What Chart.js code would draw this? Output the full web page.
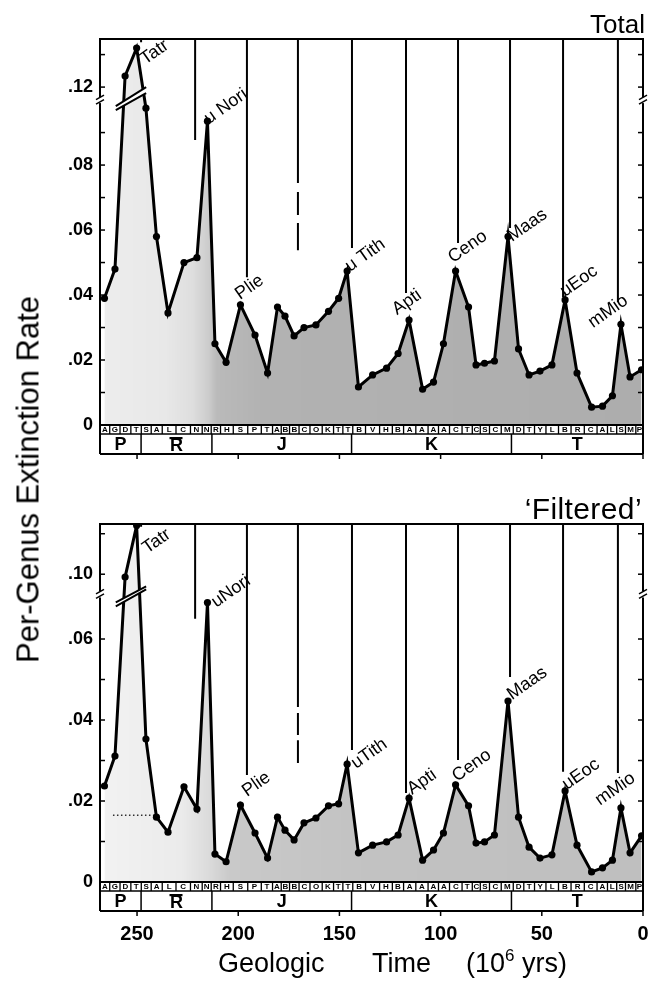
<!DOCTYPE html>
<html><head><meta charset="utf-8"><title>Per-Genus Extinction Rate</title>
<script src="https://cdn.jsdelivr.net/npm/chart.js@4.4.1/dist/chart.umd.min.js"></script>
<style>
html,body{margin:0;padding:0;background:#fff;}
#wrap{position:relative;width:649px;height:982px;overflow:hidden;font-family:"Liberation Sans",Arial,Helvetica,sans-serif;color:#000;}
canvas{position:absolute;left:0;}
.txt{position:absolute;white-space:nowrap;line-height:1;}
</style></head>
<body><div id="wrap">
<canvas id="c1" width="649" height="470" style="top:0"></canvas>
<canvas id="c2" width="649" height="502" style="top:480px"></canvas>
<div class="txt" style="right:4px;top:11px;font-size:26px;">Total</div>
<div class="txt" style="right:7px;top:494px;font-size:30px;letter-spacing:0.4px;">‘Filtered’</div>
<div class="txt" style="left:-222px;top:464px;width:500px;text-align:center;font-size:31px;transform:rotate(-90deg);">Per-Genus Extinction Rate</div>
<div class="txt" style="left:218px;top:950px;font-size:27px;">Geologic</div>
<div class="txt" style="left:372px;top:950px;font-size:27px;">Time</div>
<div class="txt" style="left:466px;top:950px;font-size:27px;">(10<span style="font-size:17px;position:relative;top:-11px">6</span> yrs)</div>
</div>
<script>
const FONT = '"Liberation Sans", Arial, Helvetica, sans-serif';

// ---- data ----
const stageAge = [266.1,260.9,255.9,250.2,245.6,240.4,234.7,226.8,220.4,215.2,211.5,206.0,198.9,191.7,185.5,180.6,176.9,172.4,167.5,161.6,155.4,150.4,146.2,140.6,133.6,126.7,121.0,115.6,108.9,103.5,98.6,92.6,86.2,82.5,78.3,73.4,66.7,61.5,56.3,50.9,45.0,38.5,32.6,25.4,20.0,15.1,10.9,6.4,0.7];
const totalRate = [0.039,0.048,0.1234,0.132,0.0975,0.058,0.0345,0.050,0.0515,0.0935,0.025,0.0193,0.037,0.0277,0.016,0.0363,0.0335,0.0274,0.030,0.0308,0.035,0.039,0.0474,0.0117,0.0154,0.0175,0.022,0.0323,0.011,0.0132,0.025,0.0474,0.0363,0.0185,0.019,0.0197,0.058,0.0234,0.0154,0.0166,0.0185,0.0385,0.016,0.0055,0.0058,0.009,0.031,0.0148,0.017];
const filteredRate = [0.0237,0.0311,0.0993,0.112,0.0353,0.016,0.0123,0.0235,0.018,0.069,0.0069,0.005,0.019,0.0121,0.0059,0.016,0.0128,0.0104,0.0146,0.0158,0.0188,0.0193,0.0291,0.0072,0.0091,0.0099,0.0116,0.0207,0.0054,0.0079,0.0121,0.024,0.0188,0.0096,0.0099,0.0116,0.0447,0.016,0.0086,0.0059,0.0067,0.0225,0.0091,0.0025,0.0035,0.0054,0.0183,0.0072,0.0114];
const stageLetters = ['A','G','D','T','S','A','L','C','N','N','R','H','S','P','T','A','B','B','C','O','K','T','T','B','V','H','B','A','A','A','A','C','T','C','S','C','M','D','T','Y','L','B','R','C','A','L','S','M','P'];

const periodNames = ['P','TR','J','K','T'];
const periodBounds = [268.3,248,213,144,65,0];
const ageMax = 268.3;
const xTickVals = [250,200,150,100,50,0];

const cycleAge = [248.0,221.3,195.7,170.5,143.8,117.1,91.4,65.7,39.5,12.4];
const cycleEndTotal = [0.1338,0.0877,0.0455,0.0538,0.0545,0.0406,0.056,0.0606,0.0394,0.0378];
const cycleEndFiltered = [0.1117,0.065,0.0264,0.0294,0.0326,0.022,0.0301,0.0506,0.0272,0.0269];
const dashedCycle = 3;
const gapsTotal = [[0.0745,0.0717],[0.0646,0.0622]];
const gapsFiltered = [[0.0432,0.0417],[0.0363,0.035]];

const namesTotal = ['Tatr','u Nori','Plie','u Tith','Apti','Ceno','Maas','uEoc','mMio'];
const nameAgeTotal = [246,214.4,199.1,144.8,121.5,93.9,64.7,38.5,24.7];
const nameRateTotal = [0.1268,0.0926,0.0385,0.0471,0.0338,0.0498,0.0563,0.0394,0.0298];
const namesFiltered = ['Tatr','uNori','Plie','uTith','Apti','Ceno','Maas','uEoc','mMio'];
const nameAgeFiltered = [245,210.9,195.7,141.8,114.1,91.9,64.7,37.5,21.2];
const nameRateFiltered = [0.105,0.0677,0.021,0.0279,0.0215,0.0247,0.0449,0.0227,0.0188];

const totalTickVals = [0,0.02,0.04,0.06,0.08,0.12];
const totalTickText = ['0','.02','.04','.06','.08','.12'];
const totalMinor = [0.01,0.03,0.05,0.07,0.09,0.13];
const filteredTickVals = [0,0.02,0.04,0.06,0.10];
const filteredTickText = ['0','.02','.04','.06','.10'];
const filteredMinor = [0.01,0.03,0.05,0.11];

const dotAge = [261.9,240.1];
const dotRate = [0.0165,0.0165];

// ---- panels ----
const panels = [
  {id:'c1', rate:totalRate, yMax:0.1188, brk:0.100, off:0.016, padTop:39, xH:45, showX:false,
   tickVals:totalTickVals, tickText:totalTickText, minor:totalMinor,
   cycleEnd:cycleEndTotal, gaps:gapsTotal, names:namesTotal, nameAge:nameAgeTotal, nameRate:nameRateTotal,
   bandAge:[260.5,245.5], band:[6,-13,10,-7],
   shade:[[0,0.07],[0.12,0.09],[0.17,0.13],[0.2,0.2],[0.215,0.27],[0.3,0.3],[1,0.32]], dots:false},
  {id:'c2', rate:filteredRate, yMax:0.0884, brk:0.071, off:0.024, padTop:44, xH:100, showX:true,
   tickVals:filteredTickVals, tickText:filteredTickText, minor:filteredMinor,
   cycleEnd:cycleEndFiltered, gaps:gapsFiltered, names:namesFiltered, nameAge:nameAgeFiltered, nameRate:nameRateFiltered,
   bandAge:[260.5,245.5], band:[8,-8,12,-5],
   shade:[[0,0.05],[0.15,0.08],[0.2,0.14],[0.24,0.21],[0.5,0.24],[1,0.25]], dots:true}
];

function makeDecor(cfg, disp){
  return {
    id:'decor_'+cfg.id,
    afterDatasetsDraw(chart){
      const ctx=chart.ctx, xs=chart.scales.x, ys=chart.scales.y;
      const X=t=>xs.getPixelForValue(t), Yd=v=>ys.getPixelForValue(v), Y=v=>Yd(disp(v));
      const yc=Yd(cfg.brk), x1=X(cfg.bandAge[0]), x2=X(cfg.bandAge[1]), b=cfg.band;
      ctx.save();
      ctx.beginPath(); ctx.moveTo(x1,yc+b[0]); ctx.lineTo(x2,yc+b[1]); ctx.lineTo(x2,yc+b[3]); ctx.lineTo(x1,yc+b[2]); ctx.closePath();
      ctx.fillStyle='#fff'; ctx.fill();
      ctx.strokeStyle='#000'; ctx.lineWidth=2;
      ctx.beginPath(); ctx.moveTo(x1,yc+b[0]); ctx.lineTo(x2,yc+b[1]); ctx.stroke();
      ctx.beginPath(); ctx.moveTo(x1,yc+b[2]); ctx.lineTo(x2,yc+b[3]); ctx.stroke();
      ctx.fillStyle='#000'; ctx.font='18px '+FONT; ctx.textAlign='left'; ctx.textBaseline='alphabetic';
      cfg.names.forEach((n,i)=>{
        ctx.save(); ctx.translate(X(cfg.nameAge[i]),Y(cfg.nameRate[i])); ctx.rotate(-35*Math.PI/180);
        ctx.fillText(n,0,0); ctx.restore();
      });
      ctx.restore();
    },
    afterDraw(chart){
      const ctx=chart.ctx, xs=chart.scales.x, ys=chart.scales.y, a=chart.chartArea;
      const X=t=>xs.getPixelForValue(t), Yd=v=>ys.getPixelForValue(v), Y=v=>Yd(disp(v));
      const sb=a.bottom+9, pb=sb+20;
      ctx.save();
      ctx.fillStyle='#fff'; ctx.fillRect(a.left,a.bottom,a.right-a.left,pb-a.bottom);
      ctx.strokeStyle='#000'; ctx.fillStyle='#000';
      // stage row
      const bounds=[ageMax];
      for(let i=0;i<stageAge.length-1;i++) bounds.push((stageAge[i]+stageAge[i+1])/2);
      bounds.push(0);
      ctx.lineWidth=1.3;
      ctx.font='bold 8px '+FONT; ctx.textAlign='center'; ctx.textBaseline='middle';
      for(let i=0;i<bounds.length;i++){
        const x=X(bounds[i]); ctx.beginPath(); ctx.moveTo(x,a.bottom); ctx.lineTo(x,sb); ctx.stroke();
        if(i<stageLetters.length){ ctx.fillText(stageLetters[i],(X(bounds[i])+X(bounds[i+1]))/2,(a.bottom+sb)/2+0.5); }
      }
      // period row
      ctx.lineWidth=1.5;
      periodBounds.forEach(t=>{const x=X(t); ctx.beginPath(); ctx.moveTo(x,sb); ctx.lineTo(x,pb); ctx.stroke();});
      ctx.font='bold 18px '+FONT;
      periodNames.forEach((n,i)=>{
        const cx=(X(periodBounds[i])+X(periodBounds[i+1]))/2, cy=(sb+pb)/2+1;
        if(n==='TR'){
          ctx.fillText('R',cx,cy+1);
          ctx.fillRect(cx-7,cy-8,13,2.2);
        } else ctx.fillText(n,cx,cy);
      });
      // horizontal lines of strip
      ctx.lineWidth=2;
      [a.bottom,pb].forEach(y=>{ctx.beginPath(); ctx.moveTo(a.left,y); ctx.lineTo(a.right,y); ctx.stroke();});
      ctx.lineWidth=1.5;
      ctx.beginPath(); ctx.moveTo(a.left,sb); ctx.lineTo(a.right,sb); ctx.stroke();
      // x tick marks
      xTickVals.forEach(t=>{const x=X(t); ctx.beginPath(); ctx.moveTo(x,pb); ctx.lineTo(x,pb+5); ctx.stroke();});
      // frame
      ctx.lineWidth=2;
      ctx.beginPath(); ctx.moveTo(a.left,pb); ctx.lineTo(a.left,a.top); ctx.lineTo(a.right,a.top); ctx.lineTo(a.right,pb); ctx.stroke();
      // y tick marks both sides
      ctx.lineWidth=1.5;
      cfg.tickVals.concat(cfg.minor).forEach(v=>{
        if(v===0) return; const y=Y(v);
        ctx.beginPath(); ctx.moveTo(a.left,y); ctx.lineTo(a.left+5,y); ctx.stroke();
        ctx.beginPath(); ctx.moveTo(a.right-5,y); ctx.lineTo(a.right,y); ctx.stroke();
      });
      // axis break marks
      const yc=Yd(cfg.brk);
      [a.left,a.right].forEach(x=>{
        ctx.fillStyle='#fff'; ctx.fillRect(x-2,yc-3,4,6);
        ctx.lineWidth=1.5; ctx.beginPath(); ctx.moveTo(x-4,yc-0.5); ctx.lineTo(x+4,yc-5); ctx.stroke();
        ctx.beginPath(); ctx.moveTo(x-4,yc+4); ctx.lineTo(x+4,yc-0.5); ctx.stroke();
      });
      ctx.restore();
    }
  };
}

panels.forEach(cfg=>{
  const disp = v => v > cfg.brk + cfg.off ? v - cfg.off : v;
  const datasets = [{
    data: stageAge.map((t,i)=>({x:t,y:disp(cfg.rate[i])})),
    borderColor:'#000', borderWidth:3, pointRadius:3.6, pointHoverRadius:3.6,
    pointBackgroundColor:'#000', pointBorderWidth:0, tension:0, fill:'origin', order:0,
    backgroundColor: c => {
      const a=c.chart.chartArea; if(!a) return 'rgba(0,0,0,0.25)';
      const g=c.chart.ctx.createLinearGradient(a.left,0,a.right,0);
      cfg.shade.forEach(s=>g.addColorStop(s[0],'rgba(0,0,0,'+s[1]+')'));
      return g;
    }
  }];
  cycleAge.forEach((t,i)=>{
    let ys=[cfg.yMax];
    if(i===dashedCycle) cfg.gaps.forEach(g=>{ys.push(disp(g[0]),disp(g[1]));});
    ys.push(disp(cfg.cycleEnd[i]));
    for(let k=0;k<ys.length;k+=2){
      datasets.push({data:[{x:t,y:ys[k]},{x:t,y:ys[k+1]}], borderColor:'#000', borderWidth:2,
        pointRadius:0, fill:false, order:1});
    }
  });
  if(cfg.dots){
    datasets.push({data:dotAge.map((t,i)=>({x:t,y:dotRate[i]})), borderColor:'#333', borderWidth:1.5,
      borderDash:[1.5,2.5], pointRadius:0, fill:false, order:1});
  }
  new Chart(document.getElementById(cfg.id), {
    type:'line',
    data:{datasets},
    options:{
      responsive:false, animation:false, devicePixelRatio:1,
      layout:{padding:{top:cfg.padTop,right:6,left:0,bottom:0}},
      plugins:{legend:{display:false},tooltip:{enabled:false}},
      scales:{
        x:{type:'linear',min:0,max:ageMax,reverse:true,
           grid:{display:false,drawTicks:false},border:{display:false},
           ticks:{display:cfg.showX,padding:40,font:{family:FONT,size:20,weight:'bold'},color:'#000',autoSkip:false,maxRotation:0},
           afterBuildTicks:s=>{s.ticks=xTickVals.map(v=>({value:v}));},
           afterFit:s=>{s.height=cfg.xH; s.paddingLeft=0; s.paddingRight=0;}},
        y:{type:'linear',min:0,max:cfg.yMax,
           grid:{display:false,drawTicks:false},border:{display:false},
           ticks:{padding:7,font:{family:FONT,size:18,weight:'bold'},color:'#000',autoSkip:false,
                  callback:(v,i)=>cfg.tickText[i]},
           afterBuildTicks:s=>{s.ticks=cfg.tickVals.map(v=>({value:disp(v)}));},
           afterFit:s=>{s.width=100; s.paddingTop=0; s.paddingBottom=0;}}
      }
    },
    plugins:[makeDecor(cfg,disp)]
  });
});
</script>
</body></html>
